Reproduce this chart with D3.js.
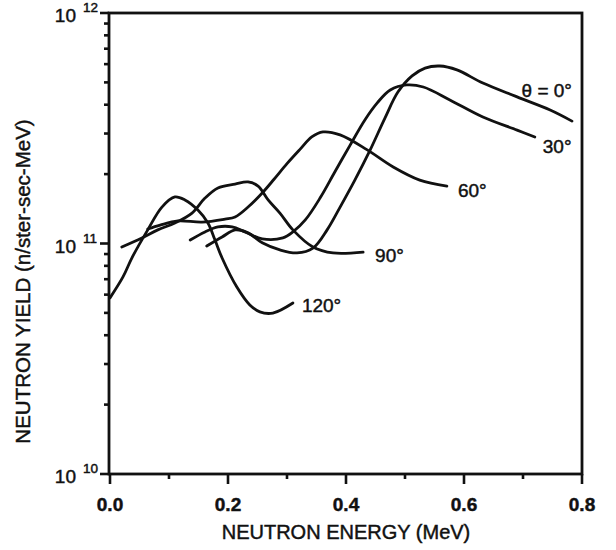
<!DOCTYPE html>
<html>
<head>
<meta charset="utf-8">
<script src="https://cdn.jsdelivr.net/npm/d3@7"></script>
<style>
  html, body { margin: 0; padding: 0; background: #fff; }
  svg { display: block; }
  text { font-family: "Liberation Sans", Arial, Helvetica, sans-serif; fill: #111; stroke: #111; stroke-width: 0.45px; }
</style>
</head>
<body>
<svg id="chart" width="616" height="550"></svg>
<script>
// ---- data ----
const energy120 = [0.000, 0.022, 0.037, 0.064, 0.088, 0.110, 0.127, 0.149, 0.166, 0.178, 0.190, 0.215, 0.237, 0.254, 0.276, 0.310];
const yield120  = [5.81e10, 7.16e10, 8.65e10, 1.146e11, 1.439e11, 1.592e11, 1.545e11, 1.396e11, 1.227e11, 1.035e11, 8.65e10, 6.47e10, 5.41e10, 5.05e10, 4.99e10, 5.52e10];

const energy90 = [0.020, 0.054, 0.081, 0.110, 0.139, 0.161, 0.183, 0.212, 0.234, 0.251, 0.268, 0.288, 0.310, 0.344, 0.378, 0.429];
const yield90  = [9.66e10, 1.057e11, 1.146e11, 1.227e11, 1.355e11, 1.574e11, 1.742e11, 1.811e11, 1.849e11, 1.774e11, 1.545e11, 1.355e11, 1.146e11, 9.66e10, 9.10e10, 9.18e10];

const energy60 = [0.064, 0.085, 0.115, 0.156, 0.195, 0.212, 0.234, 0.258, 0.278, 0.300, 0.322, 0.342, 0.361, 0.390, 0.436, 0.480, 0.525, 0.571];
const yield60  = [1.156e11, 1.202e11, 1.253e11, 1.239e11, 1.276e11, 1.303e11, 1.439e11, 1.656e11, 1.90e11, 2.22e11, 2.56e11, 2.90e11, 3.048e11, 2.958e11, 2.547e11, 2.148e11, 1.884e11, 1.774e11];

const energy30 = [0.136, 0.161, 0.183, 0.207, 0.229, 0.258, 0.293, 0.310, 0.331, 0.356, 0.381, 0.407, 0.432, 0.453, 0.475, 0.503, 0.531, 0.576, 0.632, 0.690, 0.720];
const yield30  = [1.035e11, 1.122e11, 1.180e11, 1.180e11, 1.122e11, 1.047e11, 1.057e11, 1.122e11, 1.265e11, 1.574e11, 2.042e11, 2.673e11, 3.436e11, 4.074e11, 4.634e11, 4.875e11, 4.775e11, 4.198e11, 3.540e11, 3.105e11, 2.897e11];

const energy0 = [0.164, 0.190, 0.212, 0.234, 0.258, 0.288, 0.317, 0.344, 0.368, 0.390, 0.415, 0.441, 0.466, 0.488, 0.512, 0.534, 0.559, 0.588, 0.632, 0.690, 0.746, 0.783];
const yield0  = [9.75e10, 1.067e11, 1.146e11, 1.112e11, 1.007e11, 9.38e10, 9.10e10, 9.55e10, 1.146e11, 1.439e11, 1.884e11, 2.547e11, 3.499e11, 4.539e11, 5.333e11, 5.768e11, 5.888e11, 5.662e11, 4.966e11, 4.325e11, 3.793e11, 3.396e11];

const seriesLabels = ["\u03b8 = 0\u00b0", "30\u00b0", "60\u00b0", "90\u00b0", "120\u00b0"];
const xMajorTicks = [0.0, 0.2, 0.4, 0.6, 0.8];
const xMinorTicks = [0.1, 0.3, 0.5, 0.7];
const xTickLabels = ["0.0", "0.2", "0.4", "0.6", "0.8"];
const yMajorTicks = [1e10, 1e11, 1e12];
const yTickExponents = ["10", "11", "12"];
const xTitle = "NEUTRON ENERGY (MeV)";
const yTitle = "NEUTRON YIELD (n/ster-sec-MeV)";

// ---- layout ----
const mLeft = 109, mRight = 582, mTop = 13, mBottom = 474;
const svg = d3.select("#chart");

const x = d3.scaleLinear().domain([0, 0.8]).range([mLeft + 1, mRight]);
const y = d3.scaleLog().domain([1e10, 1e12]).range([mBottom, mTop]);

// minor y ticks
const yMinor = [];
for (let d = 10; d < 12; d++) for (let m = 2; m <= 9; m++) yMinor.push(m * Math.pow(10, d));

const ink = "#111";

// x ticks
svg.append("g").selectAll("line").data(xMajorTicks).join("line")
  .attr("x1", d => x(d)).attr("x2", d => x(d))
  .attr("y1", mBottom).attr("y2", mBottom + 10)
  .attr("stroke", ink).attr("stroke-width", 2.6);
svg.append("g").selectAll("line").data(xMinorTicks).join("line")
  .attr("x1", d => x(d)).attr("x2", d => x(d))
  .attr("y1", mBottom).attr("y2", mBottom + 5)
  .attr("stroke", ink).attr("stroke-width", 2.6);
svg.append("g").selectAll("text").data(xMajorTicks).join("text")
  .attr("x", d => x(d)).attr("y", mBottom + 37)
  .attr("text-anchor", "middle")
  .attr("font-size", 19).attr("font-weight", "bold")
  .text((d, i) => xTickLabels[i]);

// y ticks
svg.append("g").selectAll("line").data(yMinor).join("line")
  .attr("x1", mLeft - 5).attr("x2", mLeft)
  .attr("y1", d => y(d)).attr("y2", d => y(d))
  .attr("stroke", ink).attr("stroke-width", 2.6);
svg.append("g").selectAll("line").data(yMajorTicks).join("line")
  .attr("x1", mLeft - 9).attr("x2", mLeft)
  .attr("y1", d => y(d)).attr("y2", d => y(d))
  .attr("stroke", ink).attr("stroke-width", 2.6);

// y tick labels: 10 with superscript exponent
yMajorTicks.forEach((v, i) => {
  const yy = y(v);
  svg.append("text").attr("x", 76).attr("y", yy + 9)
    .attr("text-anchor", "end").attr("font-size", 19).text("10");
  svg.append("text").attr("x", 83).attr("y", yy - 1)
    .attr("font-size", 13.5).text(yTickExponents[i]);
});

// frame
svg.append("rect")
  .attr("x", mLeft).attr("y", mTop)
  .attr("width", mRight - mLeft).attr("height", mBottom - mTop)
  .attr("fill", "none").attr("stroke", ink).attr("stroke-width", 2.8);

// curves
const series = [
  { e: energy0, v: yield0, label: seriesLabels[0], dx: 0, dy: -24, anchor: "end" },
  { e: energy30, v: yield30, label: seriesLabels[1], dx: 8, dy: 16, anchor: "start" },
  { e: energy60, v: yield60, label: seriesLabels[2], dx: 11, dy: 11, anchor: "start" },
  { e: energy90, v: yield90, label: seriesLabels[3], dx: 12, dy: 10, anchor: "start" },
  { e: energy120, v: yield120, label: seriesLabels[4], dx: 9, dy: 9, anchor: "start" }
];

const line = d3.line()
  .x(d => x(d[0])).y(d => y(d[1]))
  .curve(d3.curveCatmullRom.alpha(0.5));

series.forEach(s => {
  const pts = s.e.map((e, i) => [e, s.v[i]]);
  svg.append("path").datum(pts)
    .attr("d", line)
    .attr("fill", "none").attr("stroke", ink)
    .attr("stroke-width", 2.8).attr("stroke-linejoin", "round").attr("stroke-linecap", "round");
  const last = pts[pts.length - 1];
  svg.append("text")
    .attr("x", x(last[0]) + s.dx).attr("y", y(last[1]) + s.dy)
    .attr("text-anchor", s.anchor)
    .attr("font-size", 19)
    .text(s.label);
});

// axis titles
svg.append("text")
  .attr("x", 346).attr("y", 539)
  .attr("text-anchor", "middle").attr("font-size", 20)
  .text(xTitle);

svg.append("text")
  .attr("transform", `translate(30,${(mTop + mBottom) / 2 + 38}) rotate(-90)`)
  .attr("text-anchor", "middle").attr("font-size", 20.5)
  .text(yTitle);
</script>
</body>
</html>
